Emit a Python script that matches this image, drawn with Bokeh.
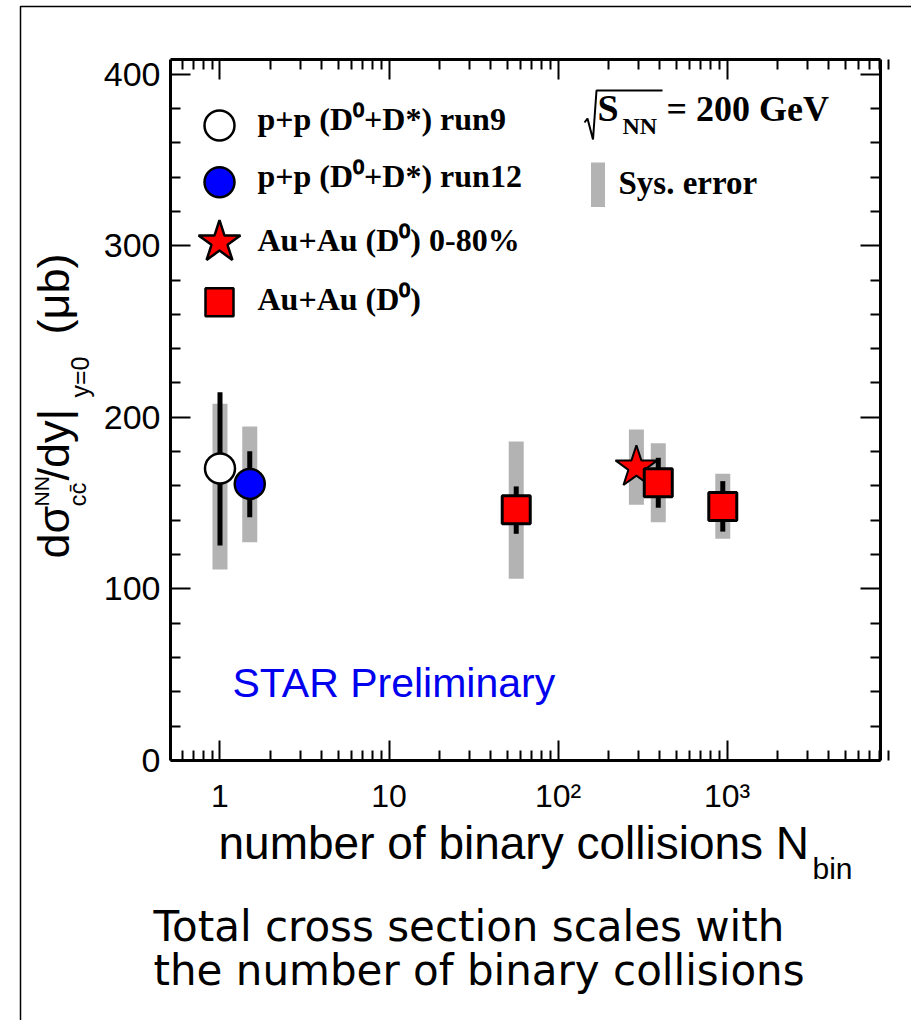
import math
from bokeh.plotting import figure
from bokeh.models import (Range1d, LinearScale, FixedTicker, LogAxis, LinearAxis, Label)
from bokeh.embed import file_html
from bokeh.resources import INLINE

# ---------------- data ----------------
pp9_x = [1.0]
pp9_y = [170.2]
pp9_stat_lo = [125.3]
pp9_stat_hi = [214.6]
pp9_sys_lo = [111.3]
pp9_sys_hi = [207.9]

pp12_x = [1.5]
pp12_y = [161.2]
pp12_stat_lo = [141.8]
pp12_stat_hi = [180.2]
pp12_sys_lo = [127.2]
pp12_sys_hi = [194.6]

mb_x = [291.0]
mb_y = [170.9]
mb_sys_lo = [149.0]
mb_sys_hi = [192.9]

auau_x = [56.6, 392.0, 944.0]
auau_y = [146.1, 161.8, 148.0]
auau_stat_lo = [132.1, 147.3, 133.4]
auau_stat_hi = [159.7, 176.4, 162.8]
auau_sys_lo = [105.9, 138.9, 129.2]
auau_sys_hi = [185.9, 184.9, 167.1]

x_bounds = (0.5095, 8094.0)
y_bounds = (0.0, 408.5)
x_major = [1, 10, 100, 1000]
x_tick_labels = ["1", "10", "10²", "10³"]
y_major = [0, 100, 200, 300, 400]
legend_labels = ["p+p (D⁰+D*) run9", "p+p (D⁰+D*) run12",
                 "Au+Au (D⁰) 0-80%", "Au+Au (D⁰)"]

# ---------------- layout: plot box inside a full-page frame ----------------
W, H = 911, 1020
BOX_L, BOX_R, BOX_T, BOX_B = 170, 880, 59, 760
lx0, lx1 = math.log10(x_bounds[0]), math.log10(x_bounds[1])
kx = (lx1 - lx0) / (BOX_R - BOX_L)
ky = (y_bounds[1] - y_bounds[0]) / (BOX_B - BOX_T)
x_range = Range1d(10 ** (lx0 - BOX_L * kx), 10 ** (lx1 + (W - BOX_R) * kx))
y_range = Range1d(y_bounds[0] - (H - BOX_B) * ky, y_bounds[1] + BOX_T * ky)

p = figure(x_axis_type="log", x_range=x_range, y_range=y_range,
           frame_width=W, frame_height=H, min_border=0,
           output_backend="svg", toolbar_location=None)
p.xgrid.visible = False
p.ygrid.visible = False
p.outline_line_color = None
p.background_fill_color = "white"
p.border_fill_color = "white"

# page-pixel helper ranges (y grows downward) for keys and texts
p.extra_x_ranges = {"px": Range1d(0, W)}
p.extra_y_ranges = {"py": Range1d(H, 0)}
p.extra_x_scales = {"px": LinearScale()}
p.extra_y_scales = {"py": LinearScale()}
PX = dict(x_range_name="px", y_range_name="py")

x_minor = [0.6, 0.7, 0.8, 0.9] + [k * 10 ** e for e in range(0, 4) for k in range(2, 10)]
y_minor = [v for v in range(0, 401, 20) if v % 100 != 0]
xticker = FixedTicker(ticks=x_major, minor_ticks=x_minor)
yticker = FixedTicker(ticks=y_major, minor_ticks=y_minor)


def style_axis(ax, show_labels, size, standoff):
    ax.axis_line_width = 3
    ax.axis_line_color = "black"
    ax.major_tick_in = 20
    ax.major_tick_out = 0
    ax.minor_tick_in = 10
    ax.minor_tick_out = 0
    ax.major_tick_line_width = 2
    ax.minor_tick_line_width = 2
    ax.major_label_standoff = standoff
    ax.major_label_text_font = "Liberation Sans"
    ax.major_label_text_font_size = size
    ax.major_label_text_color = "black" if show_labels else None


xa = p.xaxis[0]
xa.ticker = xticker
xa.fixed_location = y_bounds[0]
xa.bounds = x_bounds
xa.major_label_overrides = {v: t for v, t in zip(x_major, x_tick_labels)}
style_axis(xa, True, "32px", 17)
ya = p.yaxis[0]
ya.ticker = yticker
ya.fixed_location = x_bounds[0]
ya.bounds = y_bounds
style_axis(ya, True, "34px", 10)

top = LogAxis(ticker=xticker, fixed_location=y_bounds[1], bounds=x_bounds)
style_axis(top, False, "2px", 0)
p.add_layout(top, "above")
right = LinearAxis(ticker=yticker, fixed_location=x_bounds[1], bounds=y_bounds)
style_axis(right, False, "2px", 0)
p.add_layout(right, "right")

GRAY = "#b3b3b3"

# systematic errors
p.segment(x0=pp9_x, y0=pp9_sys_lo, x1=pp9_x, y1=pp9_sys_hi, line_width=15, line_color=GRAY)
p.segment(x0=pp12_x, y0=pp12_sys_lo, x1=pp12_x, y1=pp12_sys_hi, line_width=15, line_color=GRAY)
p.segment(x0=mb_x, y0=mb_sys_lo, x1=mb_x, y1=mb_sys_hi, line_width=15, line_color=GRAY)
p.segment(x0=auau_x, y0=auau_sys_lo, x1=auau_x, y1=auau_sys_hi, line_width=15, line_color=GRAY)

# statistical errors
p.segment(x0=pp9_x, y0=pp9_stat_lo, x1=pp9_x, y1=pp9_stat_hi, line_width=5, line_color="black")
p.segment(x0=pp12_x, y0=pp12_stat_lo, x1=pp12_x, y1=pp12_stat_hi, line_width=5, line_color="black")
p.segment(x0=auau_x, y0=auau_stat_lo, x1=auau_x, y1=auau_stat_hi, line_width=5, line_color="black")

# markers
CIRC, SQ, STAR = 30, 28, 44
p.scatter(pp9_x, pp9_y, marker="circle", size=CIRC, fill_color="white", line_color="black", line_width=2.5)
p.scatter(pp12_x, pp12_y, marker="circle", size=CIRC, fill_color="#0000ff", line_color="black", line_width=2.5)
p.scatter(mb_x, mb_y, marker="star", size=STAR, fill_color="#ff0000", line_color="black", line_width=2)
p.scatter(auau_x, auau_y, marker="square", size=SQ, fill_color="#ff0000", line_color="black", line_width=3)


def lab(text, x, y, fs, font="Liberation Sans", bold=False, color="black", rotated=False):
    # (x, y): start of the text baseline in page pixels
    d = 0.14 * fs
    if rotated:
        x, y, angle = x + d, y, math.pi / 2
    else:
        x, y, angle = x, y + d, 0.0
    p.add_layout(Label(x=x, y=y, text=text, angle=angle,
                       text_font=font, text_font_style="bold" if bold else "normal",
                       text_font_size=f"{fs}px", text_color=color, **PX))


# ---------------- legend ----------------
leg_x = 219
leg_y = [125, 181.7, 241.7, 301.7]
leg_txt_y = [132, 189, 253, 312]
leg_specs = [("circle", CIRC, "white"), ("circle", CIRC, "#0000ff"),
             ("star", STAR, "#ff0000"), ("square", SQ, "#ff0000")]
for (mk, sz, fc), yy in zip(leg_specs, leg_y):
    p.scatter([leg_x], [yy], marker=mk, size=sz, fill_color=fc, line_color="black",
              line_width=2.5, **PX)
for t, yy in zip(legend_labels, leg_txt_y):
    lab(t, 257, yy, 32, font="Liberation Serif", bold=True)

# sqrt(s_NN) = 200 GeV
p.line([584, 587, 592.5, 596, 662], [122, 118, 139, 90, 90], line_width=2, line_color="black", **PX)
lab("S", 597, 123, 38, font="Liberation Serif", bold=True)
lab("NN", 622, 135, 24, font="Liberation Serif", bold=True)
lab("= 200 GeV", 666, 123, 36, font="Liberation Serif", bold=True)
# Sys. error key
p.segment(x0=[597.5], y0=[162], x1=[597.5], y1=[206.5], line_width=14, line_color=GRAY, **PX)
lab("Sys. error", 618, 196, 33, font="Liberation Serif", bold=True)

# STAR Preliminary
lab("STAR Preliminary", 232, 700, 41, color="#0000ee")

# x axis title
lab("number of binary collisions N", 218, 862, 46)
lab("bin", 812, 880, 30)

# y axis title (rotated pieces)
ypieces = [("dσ", 72, 558, 45), ("NN", 50, 506, 21), ("cc̄", 87, 506, 24),
           ("/dy|", 72, 480, 45), ("y=0", 90, 397, 25), ("(μb)", 72, 334, 45)]
for t, xx, yy, fs in ypieces:
    lab(t, xx, yy, fs, rotated=True)

# caption
lab("Total cross section scales with", 153, 945, 42, font="DejaVu Sans")
lab("the number of binary collisions", 153, 989, 42, font="DejaVu Sans")

# thin page frame
p.line([20, 20, W], [H, 6, 6], line_width=1.5, line_color="black", **PX)

open("out.html", "w").write(file_html(p, INLINE))
